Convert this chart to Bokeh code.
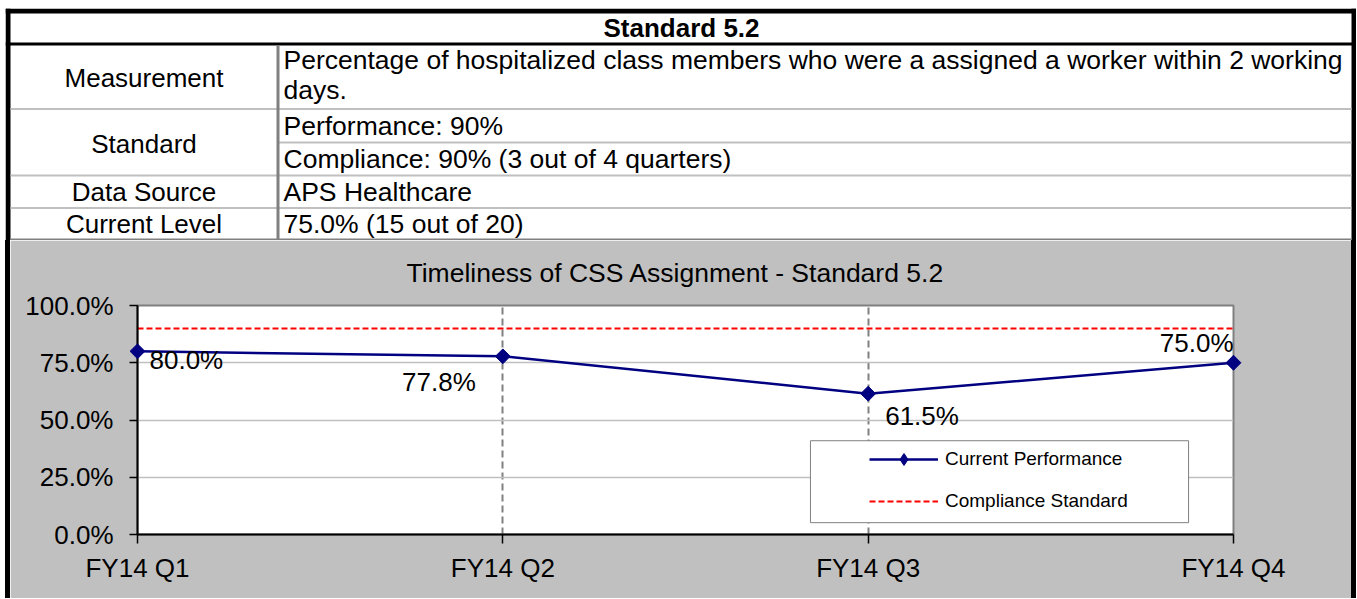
import math
import numpy as np
from bokeh.plotting import figure
from bokeh.models import (Range1d, FixedTicker, NumeralTickFormatter, Legend, LegendItem,
                          Label, BoxAnnotation, ColumnDataSource, Div)
from bokeh.layouts import column, row
from bokeh.core.properties import value
from bokeh.embed import file_html
from bokeh.resources import INLINE

# ---------------- data ----------------
table_title = "Standard 5.2"
row_labels = ["Measurement", "Standard", "Data Source", "Current Level"]
measurement_lines = ["Percentage of hospitalized class members who were a assigned a worker within 2 working",
                     "days."]
standard_lines = ["Performance: 90%", "Compliance: 90% (3 out of 4 quarters)"]
data_source = ["APS Healthcare"]
current_level = ["75.0% (15 out of 20)"]

chart_title = "Timeliness of CSS Assignment - Standard 5.2"
quarters = ["FY14 Q1", "FY14 Q2", "FY14 Q3", "FY14 Q4"]
performance = [0.800, 0.778, 0.615, 0.750]
compliance = [0.90, 0.90, 0.90, 0.90]
y_ticks = [0.0, 0.25, 0.50, 0.75, 1.0]
series_names = ["Current Performance", "Compliance Standard"]

# ---------------- styles ----------------
FONT = "Liberation Sans"
NAVY = "#000080"
RED = "#FF0000"
GRAY_BG = "#C0C0C0"
DARK_GRAY = "#808080"
LIGHT_LINE = "#C0C0C0"

# data-label placement (pixel offsets, alignment) per point
lab_dx = [12, -27, 17, 0]
lab_dy = [-9, -26, -22, 20]
lab_align = ["left", "right", "left", "right"]

# ---------------- table figure ----------------
TW, TH = 1351, 232
BW = 5
t = figure(width=TW, height=TH, x_range=Range1d(0, TW), y_range=Range1d(TH, 0),
           toolbar_location=None, output_backend="svg", min_border=0,
           x_axis_location=None, y_axis_location=None, outline_line_color=None,
           background_fill_color="white", border_fill_color="white")
t.grid.visible = False

title_bottom = 34
col_x = 272.5
row_bounds = [37, 100.5, 167, 199.5, 231]
sub_bound = 134

# black frame + title separator
t.quad(left=[0, TW - BW, 0, 0], right=[BW, TW, TW, TW],
       top=[0, 0, 0, title_bottom], bottom=[TH, TH, BW, title_bottom + 3],
       fill_color="black", line_color=None)
# gray row separators
t.segment(x0=[BW, BW, BW, col_x], x1=[TW - BW] * 4,
          y0=[row_bounds[1], row_bounds[2], row_bounds[3], sub_bound],
          y1=[row_bounds[1], row_bounds[2], row_bounds[3], sub_bound],
          line_color=LIGHT_LINE, line_width=2)
# bottom line and column separator
t.segment(x0=[BW], x1=[TW - BW], y0=[TH - 1], y1=[TH - 1], line_color=DARK_GRAY, line_width=2)
t.segment(x0=[col_x], x1=[col_x], y0=[row_bounds[0]], y1=[TH], line_color=DARK_GRAY, line_width=3)

t.text(x=[676], y=[19.5], text=[table_title], text_font=value(FONT), text_font_size="26px",
       text_font_style="bold", text_align="center", text_baseline="middle", text_color="black")

left_y = [69, 135, 183, 215]
t.text(x=[138.5] * len(row_labels), y=left_y, text=row_labels, text_font=value(FONT),
       text_font_size="26px", text_align="center", text_baseline="middle", text_color="black")

right_texts = measurement_lines + standard_lines + data_source + current_level
right_y = [51, 81, 117.5, 150.5, 183, 215]
t.text(x=[278] * len(right_texts), y=right_y, text=right_texts, text_font=value(FONT),
       text_font_size="26.5px", text_align="left", text_baseline="middle", text_color="black")

# ---------------- chart figure ----------------
CW, CH = TW - 2 * BW, 358
p = figure(width=CW, height=CH, x_range=Range1d(0, len(quarters) - 1), y_range=Range1d(0, 1),
           toolbar_location=None, output_backend="svg",
           min_border_left=127, min_border_right=118, min_border_top=62, min_border_bottom=64,
           background_fill_color="white", border_fill_color=GRAY_BG,
           outline_line_color=DARK_GRAY, outline_line_width=2)

p.title.text = chart_title
p.title.align = "left"
p.title.offset = 269
p.title.vertical_align = "middle"
p.title.standoff = 33
p.title.text_font = FONT
p.title.text_font_size = "26.5px"
p.title.text_font_style = "normal"
p.title.text_color = "black"

# axes
p.yaxis.ticker = FixedTicker(ticks=y_ticks)
p.yaxis.formatter = NumeralTickFormatter(format="0.0%")
p.xaxis.ticker = FixedTicker(ticks=list(range(len(quarters))))
p.xaxis.major_label_overrides = {i: q for i, q in enumerate(quarters)}
for ax in (p.xaxis[0], p.yaxis[0]):
    ax.axis_line_color = "black"
    ax.axis_line_width = 2
    ax.major_tick_line_color = "black"
    ax.major_tick_line_width = 1.5
    ax.major_tick_in = 0
    ax.minor_tick_in = 0
    ax.minor_tick_out = 0
    ax.major_label_text_font = FONT
    ax.major_label_text_font_size = "26px"
    ax.major_label_text_color = "black"
p.yaxis.major_tick_out = 8
p.yaxis.major_label_standoff = 16
p.xaxis.major_tick_out = 9
p.xaxis.major_label_standoff = 9

# grids
p.ygrid.ticker = FixedTicker(ticks=y_ticks)
p.ygrid.grid_line_color = LIGHT_LINE
p.ygrid.grid_line_width = 1.5
p.xgrid.ticker = FixedTicker(ticks=list(range(1, len(quarters) - 1)))
p.xgrid.grid_line_color = DARK_GRAY
p.xgrid.grid_line_width = 2
p.xgrid.grid_line_dash = "7 4"

src = ColumnDataSource(dict(x=list(range(len(quarters))), perf=performance, comp=compliance))
red_r = p.line("x", "comp", source=src, line_color=RED, line_width=2, line_dash="6 3")
ln_r = p.line("x", "perf", source=src, line_color=NAVY, line_width=2.5)
mk_r = p.scatter("x", "perf", source=src, marker="square", angle=math.pi / 4, size=10.5,
                 fill_color=NAVY, line_color=NAVY, level="overlay")
# legend-only diamond (no visible data)
leg_mk = p.scatter(x=np.array([np.nan]), y=np.array([np.nan]), marker="diamond", size=12,
                   fill_color=NAVY, line_color=NAVY)

# data labels
for i, v in enumerate(performance):
    p.add_layout(Label(x=i, y=v, text=f"{v * 100:.1f}%", x_offset=lab_dx[i], y_offset=lab_dy[i],
                       text_align=lab_align[i], text_baseline="middle", text_font=FONT,
                       text_font_size="26px", text_color="black"))

# legend box + legend
p.add_layout(BoxAnnotation(left=1.842, right=2.877, bottom=0.0517, top=0.4095,
                           fill_color="white", fill_alpha=1.0,
                           line_color=DARK_GRAY, line_width=1, line_alpha=1.0))
legend = Legend(items=[LegendItem(label=series_names[0], renderers=[ln_r, leg_mk]),
                       LegendItem(label=series_names[1], renderers=[red_r])],
                location=(732, 18), margin=0, padding=0, spacing=12,
                glyph_width=69, glyph_height=30, label_height=30, label_standoff=7,
                label_text_font=FONT, label_text_font_size="19px", label_text_color="black",
                background_fill_alpha=0, border_line_color=None)
p.add_layout(legend)

side_l = Div(width=BW, height=CH, margin=0, styles={"background-color": "black"})
side_r = Div(width=BW, height=CH, margin=0, styles={"background-color": "black"})

layout = column(t, row(side_l, p, side_r, spacing=0), spacing=0, margin=(8, 0, 0, 5))

open("out.html", "w").write(file_html(layout, INLINE))
